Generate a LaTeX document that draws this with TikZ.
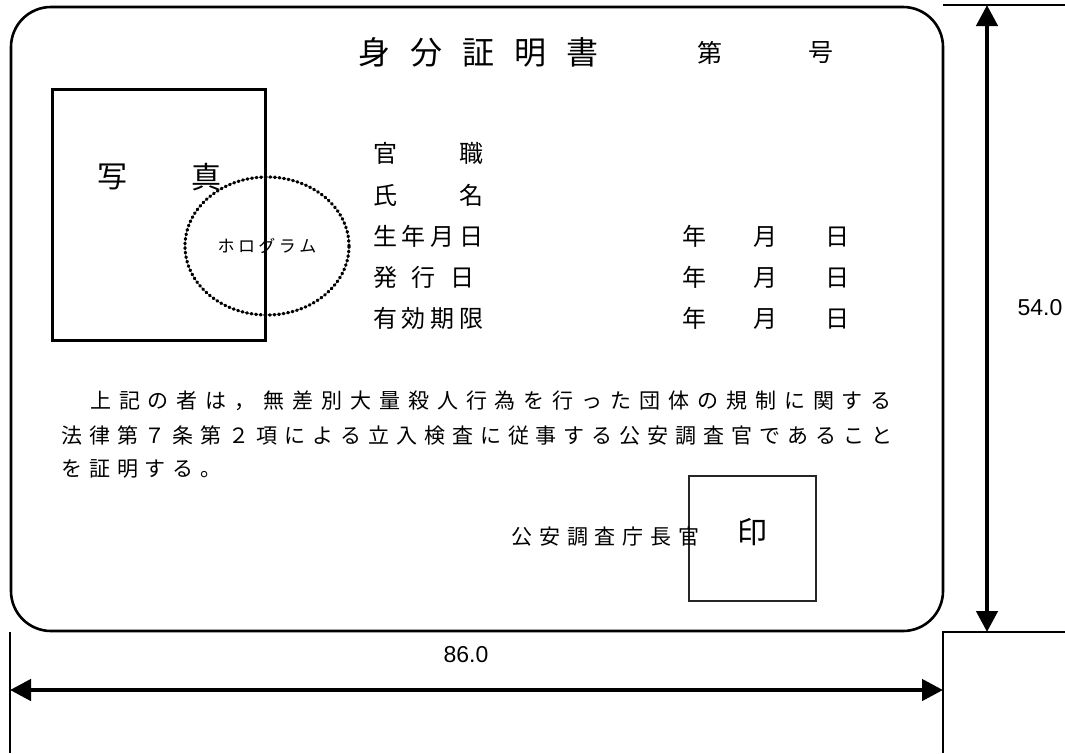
\documentclass[tikz,border=0pt]{standalone}
\usepackage{fontspec}
\setmainfont{Liberation Sans}
\newfontfamily\jp{Noto Sans CJK JP}
\newfontfamily\jpbody[LetterSpace=33,Kerning=Off]{Noto Sans CJK JP}
\newfontfamily\jpwide[LetterSpace=37.7,Kerning=Off]{Noto Sans CJK JP}
\newfontfamily\jplabel[LetterSpace=20,Kerning=Off]{Noto Sans CJK JP}
\usetikzlibrary{arrows.meta,positioning,shapes.geometric}

\begin{document}
\begin{tikzpicture}[x=1pt,y=-1pt,inner sep=0pt,
    card/.style={draw,line width=2.6pt,rounded corners=40pt},
    photobox/.style={draw,line width=3pt},
    holo/.style={draw,ellipse,line width=3.2pt,line cap=round,dash pattern=on 1pt off 3.6pt},
    sealbox/.style={draw,line width=1.2pt,black!85},
    dimline/.style={line width=1.3pt},
    dimarrow/.style={line width=4.5pt,{Triangle[length=21pt,width=21pt]}-{Triangle[length=21pt,width=21pt]}},
    dimlabel/.style={font=\fontsize{23pt}{23pt}\selectfont},
    big/.style={font=\jp\fontsize{32pt}{32pt}\selectfont},
    mid/.style={font=\jp\fontsize{25pt}{25pt}\selectfont},
    fieldlabel/.style={anchor=west,font=\jplabel\fontsize{24pt}{24pt}\selectfont},
    datefield/.style={font=\jp\fontsize{24pt}{24pt}\selectfont},
    bodyline/.style={anchor=west,font=\jpbody\fontsize{21pt}{21pt}\selectfont}]
  \useasboundingbox (0,0) rectangle (1065,753);

  % card and boxes
  \node[card,minimum width=932pt,minimum height=624pt] (card) at (477,319) {};
  \node[photobox,minimum width=213pt,minimum height=251pt] (photo) at (158.5,214.5) {};
  \node[sealbox,minimum width=127pt,minimum height=125pt] (seal) at (752.5,538.5) {};
  \node[holo,minimum width=164pt,minimum height=138pt] (holo) at (267,246)
    {\jplabel\fontsize{17pt}{17pt}\selectfont ホログラム};

  % heading
  \node[big] (title) at (478,52) {身\hspace{20pt}分\hspace{20pt}証\hspace{20pt}明\hspace{20pt}書};
  \node[mid] (dai) at (710,53) {第};
  \node[mid] (go) at (821,53) {号};
  \node[font=\jp\fontsize{30pt}{30pt}\selectfont] (sha) at (112,177) {写};
  \node[font=\jp\fontsize{30pt}{30pt}\selectfont] (shin) at (206,177) {真};

  % fields
  \node[fieldlabel] (post) at (373,153) {官　　職};
  \node[fieldlabel] (name) at (373,195) {氏　　名};
  \node[fieldlabel] (birth) at (373,236) {生年月日};
  \node[fieldlabel] (issue) at (373,277) {発\hspace{14.6pt}行\hspace{14.6pt}日};
  \node[fieldlabel] (expiry) at (373,318) {有効期限};
  \node[datefield] (birth-d) at (765.5,236) {年\hspace{47pt}月\hspace{48pt}日};
  \node[datefield] (issue-d) at (765.5,277) {年\hspace{47pt}月\hspace{48pt}日};
  \node[datefield] (expiry-d) at (765.5,318) {年\hspace{47pt}月\hspace{48pt}日};

  % statement
  \node[bodyline,font=\jpwide\fontsize{21pt}{21pt}\selectfont] (line1) at (61,401) {　上記の者は，無差別大量殺人行為を行った団体の規制に関する};
  \node[bodyline] (line2) at (61,436) {法律第７条第２項による立入検査に従事する公安調査官であること};
  \node[bodyline] (line3) at (61,469) {を証明する。};
  \node[bodyline] (chief) at (511,537) {公安調査庁長官};
  \node[font=\jp\fontsize{30pt}{30pt}\selectfont] (in) at (752,532) {印};

  % dimensions
  \coordinate (top-l) at (943,5);
  \coordinate (top-r) at (1065,5);
  \coordinate (bot-l) at (943,632);
  \coordinate (bot-r) at (1065,632);
  \coordinate (bot-d) at (943,753);
  \coordinate (left-t) at (10,632);
  \coordinate (left-d) at (10,753);
  \coordinate (h-top) at (987,5);
  \coordinate (h-bot) at (987,632);
  \coordinate (w-left) at (10,690);
  \coordinate (w-right) at (943,690);
  \draw[dimline] (top-l) -- (top-r);
  \draw[dimline] (bot-r) -- (bot-l) -- (bot-d);
  \draw[dimline] (left-t) -- (left-d);
  \draw[dimarrow] (h-top) -- (h-bot);
  \draw[dimarrow] (w-left) -- (w-right);
  \node[dimlabel] (height) at (1040,308) {54.0};
  \node[dimlabel] (width) at (466,655) {86.0};
\end{tikzpicture}
\end{document}
